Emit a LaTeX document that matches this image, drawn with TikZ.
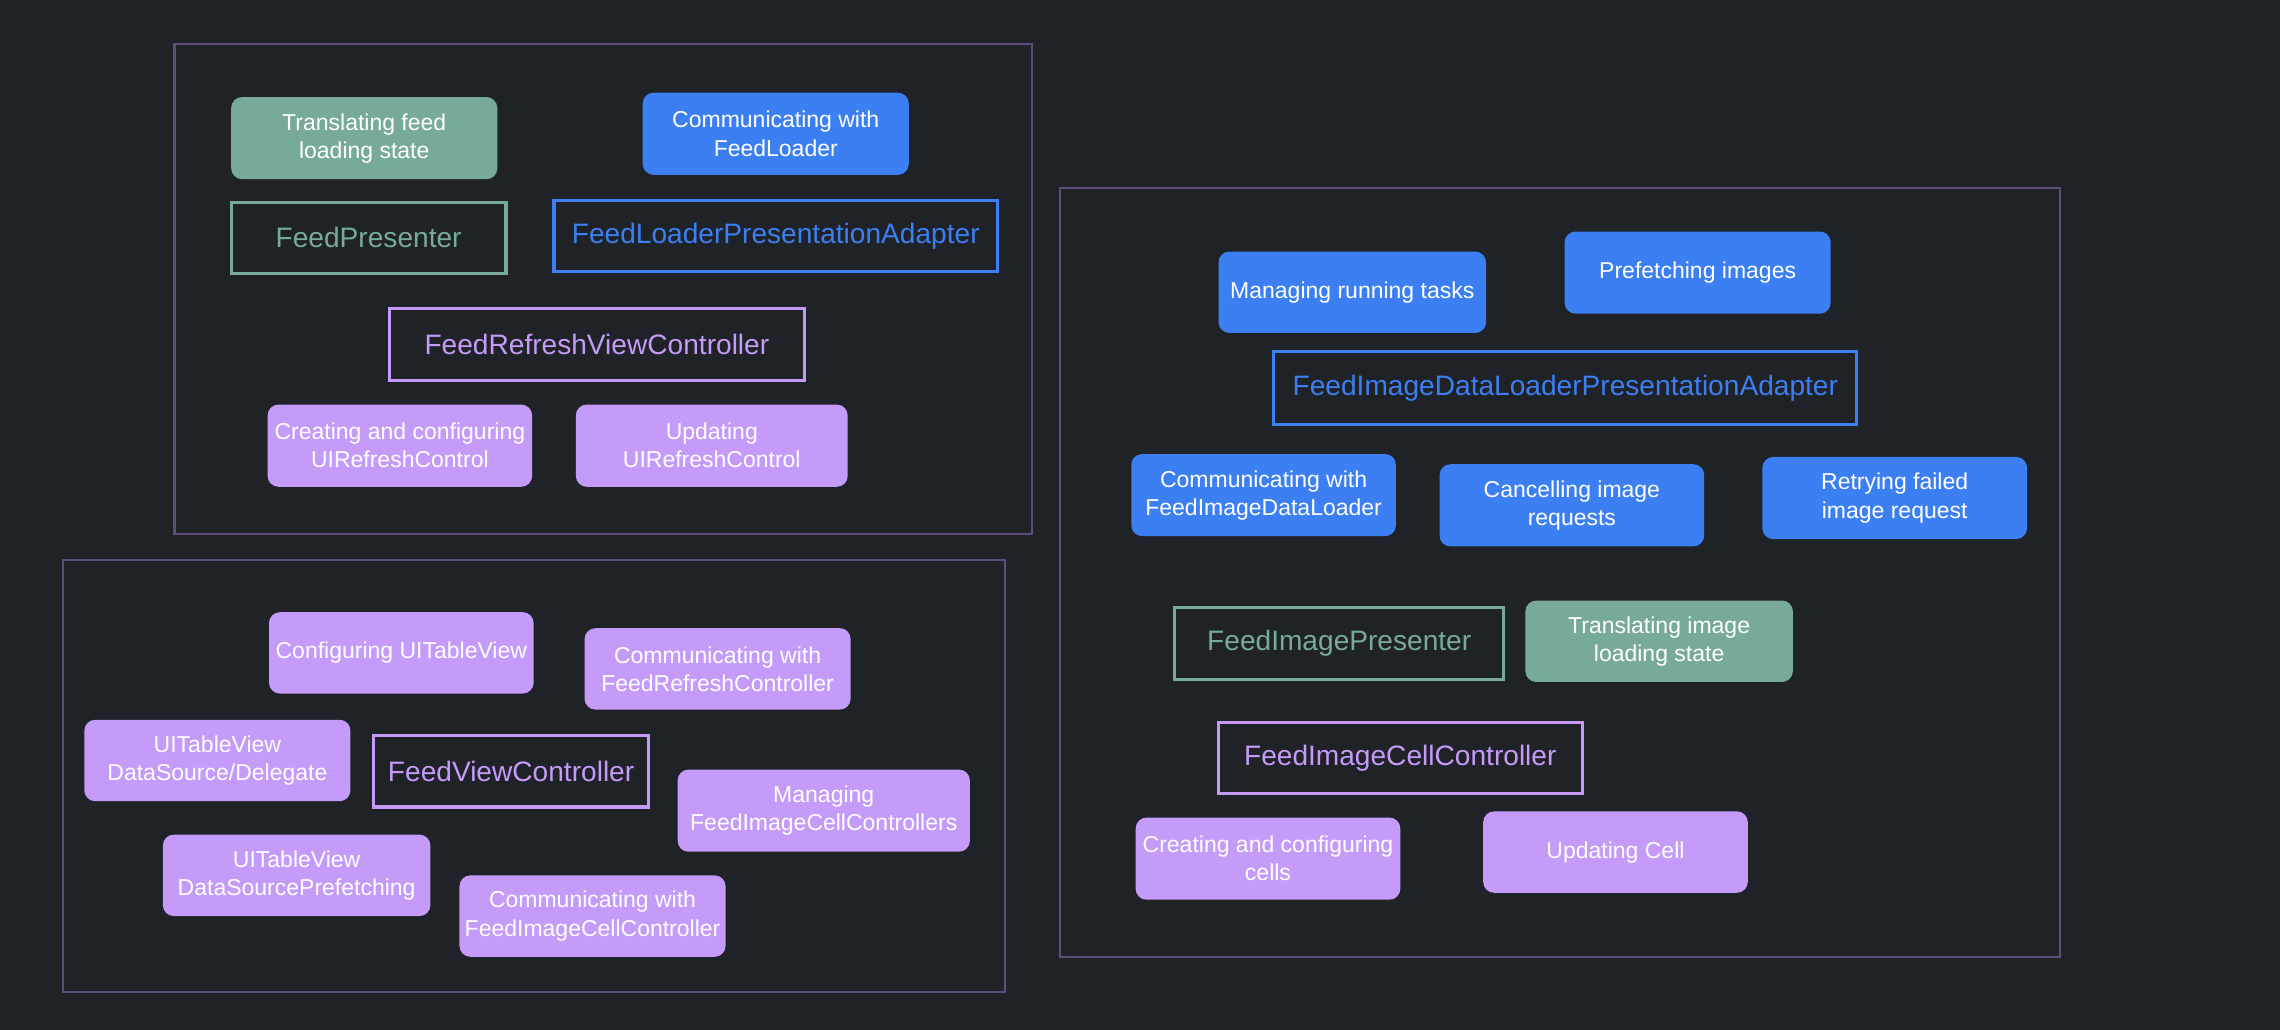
\documentclass[tikz,border=0pt]{standalone}
\usepackage{fontspec}
\setmainfont{Liberation Sans}
\usepackage{tikz}
\usetikzlibrary{shapes,arrows}
\definecolor{bgdark}{RGB}{31,34,39}
\definecolor{framecol}{RGB}{92,78,120}
\definecolor{presgreen}{RGB}{120,170,156}
\definecolor{adaptblue}{RGB}{59,127,242}
\definecolor{ctrlpurple}{RGB}{196,155,248}
\tikzstyle{frame} = [draw=framecol, line width=0.8pt]
\tikzstyle{task} = [rectangle, rounded corners=0.15cm, minimum width=3.64cm, minimum height=1.13cm, text=white, align=center, inner sep=1pt, font=\fontsize{9}{11}\selectfont]
\tikzstyle{greentask} = [task, fill=presgreen]
\tikzstyle{bluetask} = [task, fill=adaptblue]
\tikzstyle{purpletask} = [task, fill=ctrlpurple]
\tikzstyle{component} = [rectangle, minimum height=0.98cm, line width=1.2pt, align=center, font=\fontsize{11}{13}\selectfont]
\tikzstyle{greencomp} = [component, draw=presgreen, text=presgreen]
\tikzstyle{bluecomp} = [component, draw=adaptblue, text=adaptblue]
\tikzstyle{purplecomp} = [component, draw=ctrlpurple, text=ctrlpurple]
\begin{document}
\begin{tikzpicture}
        \fill[bgdark] (0,0) rectangle (31.36,-14.167);
        \useasboundingbox (0,0) rectangle (31.36,-14.167);

        % refresh
        \draw[frame] (2.40,-0.60) rectangle (14.20,-7.34);
        \node (1) [greentask, xshift=5.01cm, yshift=-1.90cm, minimum width=3.66cm] {Translating feed \\ loading state};
        \node (2) [bluetask, xshift=10.67cm, yshift=-1.84cm, minimum width=3.66cm] {Communicating with \\ FeedLoader};
        \node (3) [greencomp, xshift=5.07cm, yshift=-3.27cm, minimum width=3.78cm] {FeedPresenter};
        \node (4) [bluecomp, xshift=10.67cm, yshift=-3.25cm, minimum width=6.10cm] {FeedLoaderPresentationAdapter};
        \node (5) [purplecomp, xshift=8.21cm, yshift=-4.74cm, minimum width=5.70cm, minimum height=1.00cm] {FeedRefreshViewController};
        \node (6) [purpletask, xshift=5.50cm, yshift=-6.13cm] {Creating and configuring \\ UIRefreshControl};
        \node (7) [purpletask, xshift=9.79cm, yshift=-6.13cm, minimum width=3.74cm] {Updating \\ UIRefreshControl};

        % image cell
        \draw[frame] (14.58,-2.58) rectangle (28.34,-13.16);
        \node (8) [bluetask, xshift=18.60cm, yshift=-4.02cm, minimum width=3.68cm, minimum height=1.12cm] {Managing running tasks};
        \node (9) [bluetask, xshift=23.35cm, yshift=-3.75cm, minimum width=3.66cm] {Prefetching images};
        \node (10) [bluecomp, xshift=21.53cm, yshift=-5.34cm, minimum width=8.02cm, minimum height=1.00cm] {FeedImageDataLoaderPresentationAdapter};
        \node (11) [bluetask, xshift=17.38cm, yshift=-6.81cm] {Communicating with \\ FeedImageDataLoader};
        \node (12) [bluetask, xshift=21.62cm, yshift=-6.95cm] {Cancelling image \\ requests};
        \node (13) [bluetask, xshift=26.06cm, yshift=-6.85cm] {Retrying failed \\ image request};
        \node (14) [greencomp, xshift=18.42cm, yshift=-8.85cm, minimum width=4.52cm] {FeedImagePresenter};
        \node (15) [greentask, xshift=22.82cm, yshift=-8.82cm, minimum width=3.68cm, minimum height=1.12cm] {Translating image \\ loading state};
        \node (16) [purplecomp, xshift=19.26cm, yshift=-10.43cm, minimum width=5.00cm] {FeedImageCellController};
        \node (17) [purpletask, xshift=17.44cm, yshift=-11.81cm] {Creating and configuring \\ cells};
        \node (18) [purpletask, xshift=22.22cm, yshift=-11.72cm, minimum height=1.12cm] {Updating Cell};

        % feed view
        \draw[frame] (0.86,-7.70) rectangle (13.82,-13.64);
        \node (19) [purpletask, xshift=5.52cm, yshift=-8.98cm, minimum height=1.12cm] {Configuring UITableView};
        \node (20) [purpletask, xshift=9.87cm, yshift=-9.20cm, minimum width=3.66cm, minimum height=1.12cm] {Communicating with \\ FeedRefreshController};
        \node (21) [purpletask, xshift=2.99cm, yshift=-10.46cm, minimum width=3.66cm, minimum height=1.12cm] {UITableView \\ DataSource/Delegate};
        \node (22) [purplecomp, xshift=7.03cm, yshift=-10.61cm, minimum width=3.78cm] {FeedViewController};
        \node (23) [purpletask, xshift=11.33cm, yshift=-11.15cm, minimum width=4.02cm] {Managing \\ FeedImageCellControllers};
        \node (24) [purpletask, xshift=4.08cm, yshift=-12.04cm, minimum width=3.68cm, minimum height=1.12cm] {UITableView \\ DataSourcePrefetching};
        \node (25) [purpletask, xshift=8.15cm, yshift=-12.60cm, minimum width=3.66cm, minimum height=1.12cm] {Communicating with \\ FeedImageCellController};

    \end{tikzpicture}
\end{document}
